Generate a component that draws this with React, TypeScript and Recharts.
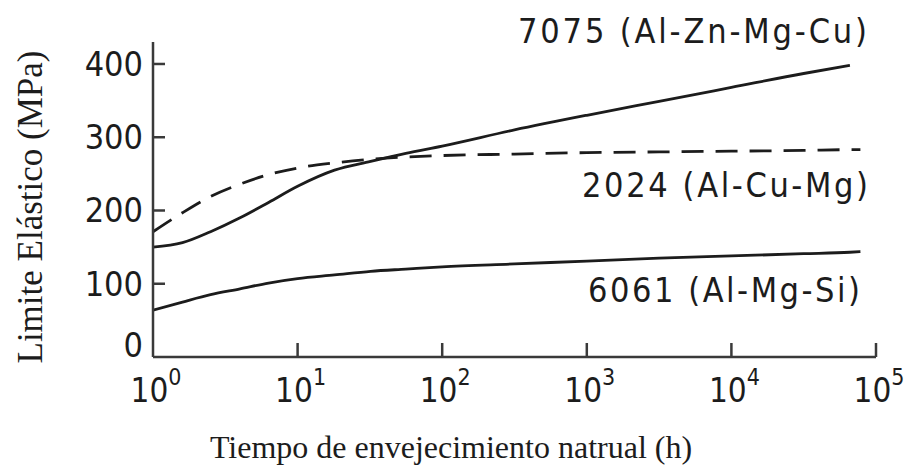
import { Line, LineChart, XAxis, YAxis } from "recharts"

// Aging time in hours (log axis), yield strength in MPa
const hours = [1, 1.6, 2.5, 4, 6.3, 10, 18, 32, 56, 100, 316, 1000, 3162, 10000, 31623, 66000, 78000]
const al7075 = [150, 156, 171, 190, 211, 233, 255, 267, 278, 288, 310, 330, 349, 368, 387, 398, null]
const al2024 = [171, 197, 219, 236, 249, 258, 265, 270, 273, 275, 277, 279, 280, 281, 282, 283, 283]
const al6061 = [64, 75, 85, 93, 101, 107, 112, 117, 120, 123, 127, 131, 135, 138, 141, 143, 144]

const xTicks = [1, 10, 100, 1000, 10000, 100000]
const yTicks = [0, 100, 200, 300, 400]

const seriesLabels = ["7075 (Al-Zn-Mg-Cu)", "2024 (Al-Cu-Mg)", "6061 (Al-Mg-Si)"]
const yTitle = "Limite Elástico (MPa)"
const xTitle = "Tiempo de envejecimiento natrual (h)"

const data = hours.map((t, i) => ({ t, a: al7075[i], b: al2024[i], c: al6061[i] }))

const W = 905
const H = 472
const X_AXIS_H = 30
const M = { top: 42, right: 29, bottom: 85, left: 0 }
const PLOT_L = 153
const PLOT_B = H - M.bottom - X_AXIS_H
const INK = "#1c1c1c"
const AXIS = "#3a3a3a"
const COND = "'DejaVu Sans Condensed', 'Liberation Sans Narrow', 'DejaVu Sans', sans-serif"
const SERIF = "'Liberation Serif', 'Times New Roman', serif"

function YTick({ y, payload }: any) {
  const v = payload.value
  return (
    <g>
      {v !== 0 && <line x1={PLOT_L} x2={PLOT_L + 12} y1={y} y2={y} stroke={AXIS} strokeWidth={2.5} />}
      <text x={143} y={y + (v === 0 ? -12 : 0)} textAnchor="end" dominantBaseline="central"
        fontFamily={COND} fontStretch="condensed" fontSize={34} fill={INK}>{v}</text>
    </g>
  )
}

function XTick({ x, payload }: any) {
  const exp = Math.round(Math.log10(payload.value))
  return (
    <g>
      {exp !== 0 && <line x1={x} x2={x} y1={PLOT_B} y2={PLOT_B - 14} stroke={AXIS} strokeWidth={2.5} />}
      <text x={x + 3} y={402} textAnchor="middle" fontFamily={COND} fontStretch="condensed" fill={INK}>
        <tspan fontSize={33}>10</tspan>
        <tspan fontSize={23} dy={-17}>{exp}</tspan>
      </text>
    </g>
  )
}

export default function App() {
  return (
    <div style={{ position: "absolute", left: 0, top: 0, width: W, height: H, background: "#fff" }}>
      <LineChart width={W} height={H} data={data} margin={M}>
        <XAxis dataKey="t" type="number" scale="log" domain={[1, 100000]} ticks={xTicks} height={X_AXIS_H}
          allowDataOverflow interval={0} tick={<XTick />} tickLine={false}
          axisLine={{ stroke: AXIS, strokeWidth: 2.5 }} />
        <YAxis type="number" domain={[0, 430]} ticks={yTicks} width={PLOT_L} interval={0}
          tick={<YTick />} tickLine={false} axisLine={{ stroke: AXIS, strokeWidth: 2.5 }} />
        <Line type="monotone" dataKey="a" stroke={INK} strokeWidth={2.8} dot={false} isAnimationActive={false} />
        <Line type="monotone" dataKey="b" stroke={INK} strokeWidth={2.8} strokeDasharray="22 12" dot={false} isAnimationActive={false} />
        <Line type="monotone" dataKey="c" stroke={INK} strokeWidth={2.8} dot={false} isAnimationActive={false} />

        <text x={518} y={43} textLength={349} lengthAdjust="spacing" fontFamily={COND} fontStretch="condensed" fontSize={34} fill={INK}>{seriesLabels[0]}</text>
        <text x={582} y={197} textLength={286} lengthAdjust="spacing" fontFamily={COND} fontStretch="condensed" fontSize={34} fill={INK}>{seriesLabels[1]}</text>
        <text x={588} y={302} textLength={272} lengthAdjust="spacing" fontFamily={COND} fontStretch="condensed" fontSize={34} fill={INK}>{seriesLabels[2]}</text>

        <text x={30} y={207} transform="rotate(-90 30 207)" textAnchor="middle" dominantBaseline="central"
          fontFamily={SERIF} fontSize={35} fill={INK}>{yTitle}</text>
        <text x={451} y={458} textAnchor="middle" fontFamily={SERIF} fontSize={32} fill={INK}>{xTitle}</text>
      </LineChart>
    </div>
  )
}
